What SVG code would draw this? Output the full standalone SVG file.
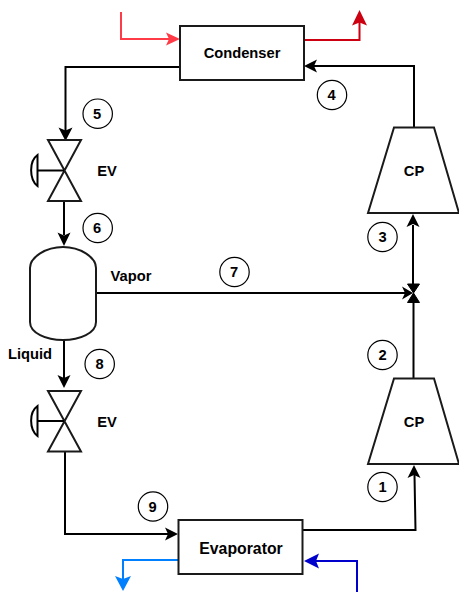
<svg xmlns="http://www.w3.org/2000/svg" width="459" height="592" viewBox="0 0 459 592">
<style>
text{font-family:"Liberation Sans",Arial,sans-serif;font-weight:bold;font-size:14.700px;fill:#000;text-anchor:middle}
.n{fill:none;stroke:#000;stroke-width:2;stroke-linejoin:miter}
.b{fill:#fff;stroke:#1a1a1a;stroke-width:2}
.c{fill:#fff;stroke:#000;stroke-width:1.2}
.w{fill:none;stroke-width:2}
.j{fill:#000;stroke:#000;stroke-width:1}
</style>
<rect width="459" height="592" fill="#fff"/>
<g id="connectors">
<path class="n" d="M180 67H65.500V131"/><path d="M65.500 141L58.500 127.500L65.500 130.500L72.500 127.500Z"/>
<path class="n" d="M64 201V235"/><path d="M64 246L57.500 232.500L64 235.500L70.500 232.500Z"/>
<path class="n" d="M64 340V379"/><path d="M64 388L57.500 375L64 378L70.500 375Z"/>
<path class="n" d="M65 452V534H170"/><path d="M178 534L165 527.500L168 534L165 540.500Z"/>
<path class="n" d="M302 530H415.500L414.500 475"/><path d="M414 465L407.500 478L414 475L420.500 478Z"/>
<path class="n" d="M413.500 378V300"/>
<path class="n" d="M413 284V225"/><path d="M413 214L406.500 227L413 224L419.500 227Z"/>
<path class="n" d="M414 127V66H312"/><path d="M304 66L317 59.500L314 66L317 72.500Z"/>
<path class="n" d="M96 293H405"/><path d="M413 293L402 286.500L405 293L402 299.500Z"/>
<path class="j" d="M407.500 284H419.500L413.500 293Z"/>
<path class="j" d="M407.500 302.500H419.500L413.500 293Z"/>
<path class="w" stroke="#ff3b47" d="M121 12V39H171"/><path fill="#ff3b47" d="M180 39L166 32.500L169 39L166 45.500Z"/>
<path class="w" stroke="#cc0011" d="M304 40H359.500V20"/><path fill="#cc0011" d="M359.500 10L352 25.500L359.500 22.500L367 25.500Z"/>
<path class="w" stroke="#0000cc" d="M357 592V561H312"/><path fill="#0000cc" d="M304 561L319 553.500L316 561L319 568.500Z"/>
<path class="w" stroke="#007fff" d="M178 560H123V580"/><path fill="#007fff" d="M123 591L115 576L123 579L131 576Z"/>
</g>
<g id="condenser"><rect class="b" x="180" y="26" width="124" height="54"/><text x="242" y="58">Condenser</text></g>
<g id="evaporator"><rect class="b" x="178.500" y="520" width="124" height="54"/><text x="241" y="554" style="font-size:15.800px">Evaporator</text></g>
<g id="cp-high"><path class="b" d="M394 127.500H434L459 213H368Z"/><text x="414" y="176">CP</text></g>
<g id="cp-low"><path class="b" d="M394 378.500H434L459 464H368Z"/><text x="414" y="427">CP</text></g>
<g id="ev-top"><path class="b" d="M48 140H81L48 201H81Z"/><path class="n" d="M64 170.500H37.500"/><path class="n" d="M37.500 155C29 161 29 179 37.500 186Z"/><text x="107" y="176">EV</text></g>
<g id="ev-bottom"><path class="b" d="M48 391H81L48 451.500H81Z"/><path class="n" d="M64 421H37.500"/><path class="n" d="M37.500 406C29 412 29 429 37.500 436Z"/><text x="107" y="427">EV</text></g>
<g id="separator"><path class="b" d="M30 268C30 257 46 247 63 247C80 247 96 257 96 268V322C96 333 80 340 63 340C46 340 30 333 30 322Z"/></g>
<text x="131" y="281">Vapor</text>
<text x="30" y="359">Liquid</text>
<g id="state-1"><circle class="c" cx="382.500" cy="487" r="14.700"/><text x="382.500" y="492">1</text></g>
<g id="state-2"><circle class="c" cx="382.500" cy="355" r="14.700"/><text x="382.500" y="360">2</text></g>
<g id="state-3"><circle class="c" cx="382.500" cy="237" r="14.700"/><text x="382.500" y="242">3</text></g>
<g id="state-4"><circle class="c" cx="332" cy="95" r="14.700"/><text x="331.500" y="100">4</text></g>
<g id="state-5"><circle class="c" cx="97.700" cy="113.700" r="14.700"/><text x="97" y="119">5</text></g>
<g id="state-6"><circle class="c" cx="97.700" cy="228" r="14.700"/><text x="97" y="233">6</text></g>
<g id="state-7"><circle class="c" cx="234.500" cy="272" r="14.700"/><text x="234" y="277">7</text></g>
<g id="state-8"><circle class="c" cx="99.700" cy="364" r="14.700"/><text x="99.500" y="369">8</text></g>
<g id="state-9"><circle class="c" cx="153" cy="506.500" r="14.700"/><text x="152.500" y="512">9</text></g>
</svg>
